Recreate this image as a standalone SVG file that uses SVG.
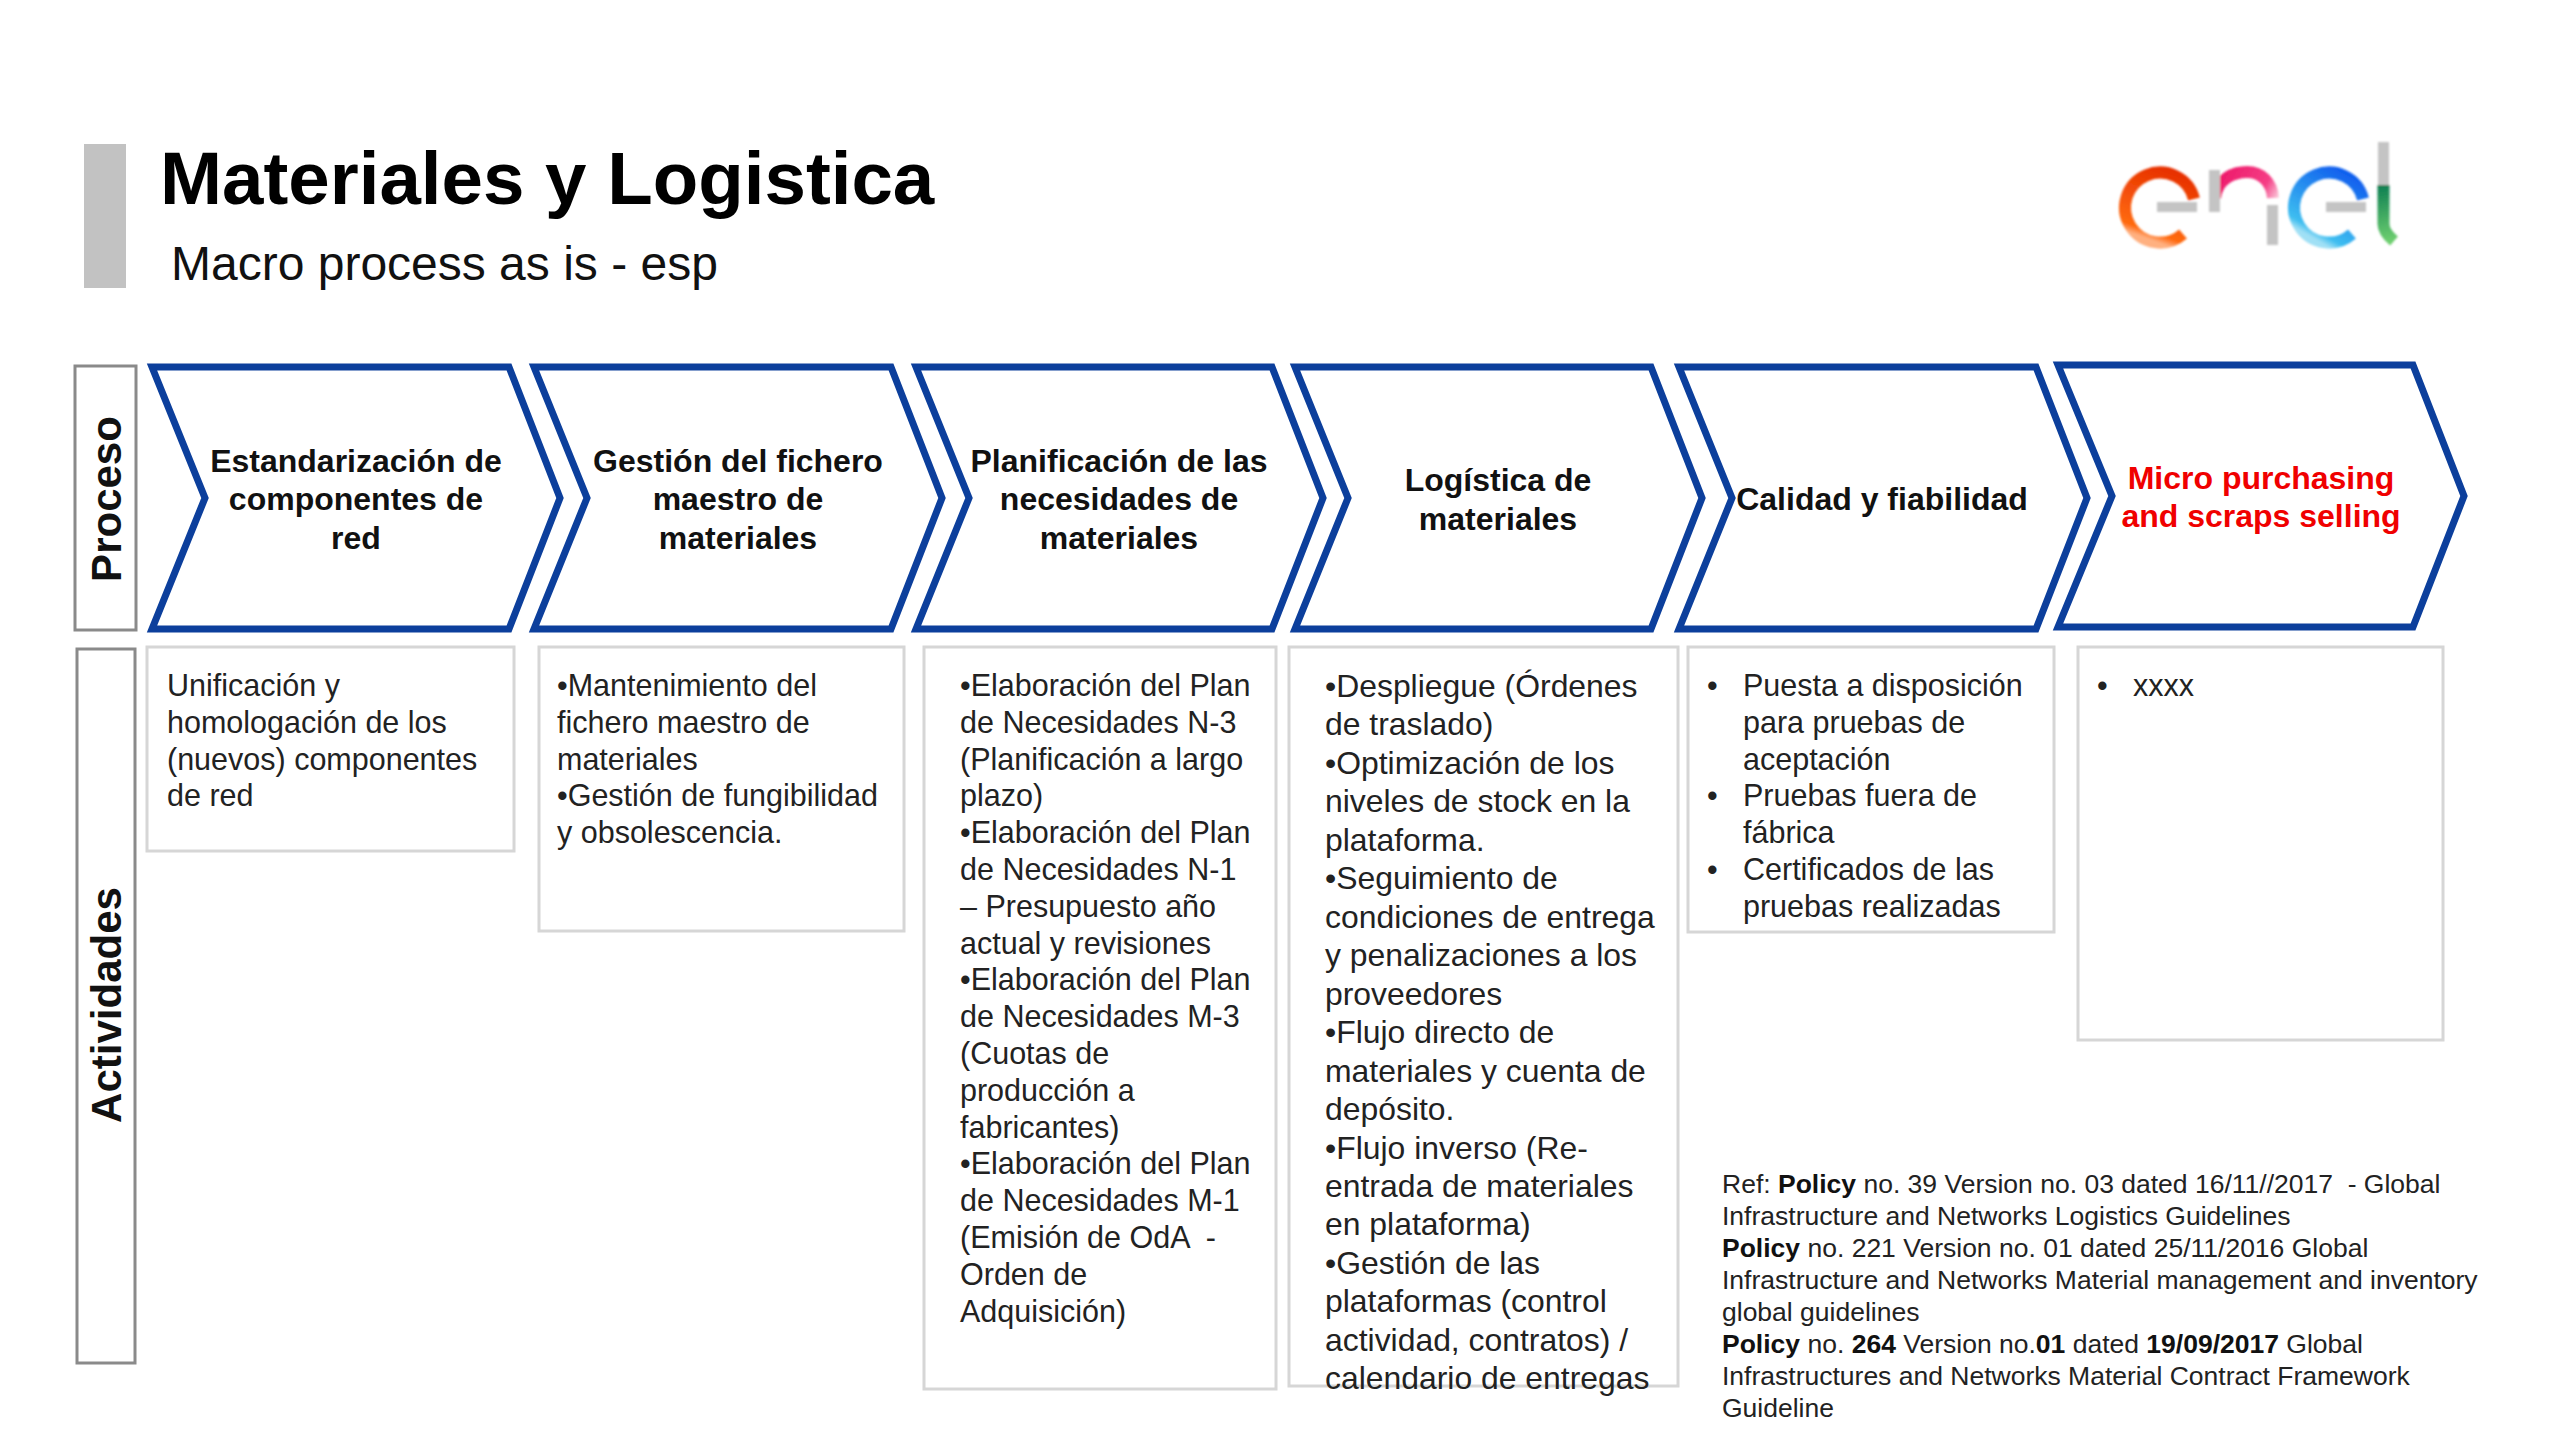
<svg xmlns="http://www.w3.org/2000/svg" width="2560" height="1440" viewBox="0 0 2560 1440">
<style>
text{font-family:"Liberation Sans",Arial,sans-serif;fill:#111;white-space:pre}
.chev{fill:#fff;stroke:#0c3f9c;stroke-width:7;stroke-linejoin:miter}
.h{font-size:32px;font-weight:bold;text-anchor:middle}
.red{fill:#f00000}
.box{fill:#fff;stroke:#d6d6d6;stroke-width:3}
.side{fill:#fff;stroke:#8a8a8a;stroke-width:3}
.b{font-size:30.500px;fill:#222}
.r{font-size:26.500px;fill:#222}
.s{font-weight:bold;fill:#111}
.v{font-size:42px;font-weight:bold;text-anchor:middle}
.g{fill:#c4c4c4}
.a{fill:none;stroke-width:12}
</style>
<defs>
<linearGradient id="g1" gradientUnits="userSpaceOnUse" x1="2190" y1="175" x2="2165" y2="245"><stop offset="0" stop-color="#e62e00"/><stop offset=".9" stop-color="#ff6a10"/><stop offset="1" stop-color="#ffb080"/></linearGradient>
<linearGradient id="g2" gradientUnits="userSpaceOnUse" x1="2225" y1="170" x2="2278" y2="200"><stop offset="0" stop-color="#ee1c6c"/><stop offset=".7" stop-color="#f53d85"/><stop offset="1" stop-color="#fbd3e0"/></linearGradient>
<linearGradient id="g3" gradientUnits="userSpaceOnUse" x1="2365" y1="175" x2="2325" y2="245"><stop offset="0" stop-color="#0b55ee"/><stop offset=".9" stop-color="#3dbdf0"/><stop offset="1" stop-color="#a0e0f5"/></linearGradient>
<linearGradient id="g4" gradientUnits="userSpaceOnUse" x1="2383" y1="185" x2="2392" y2="242"><stop offset="0" stop-color="#0e7f52"/><stop offset="1" stop-color="#6fd070"/></linearGradient>
<filter id="soft"><feGaussianBlur stdDeviation="1"/></filter>
</defs>
<rect width="2560" height="1440" fill="#fff"/>
<g id="header">
<rect x="84" y="144" width="42" height="144" fill="#c2c2c2"/>
<text x="160" y="204" font-size="74.500" font-weight="bold" style="fill:#000">Materiales y Logistica</text>
<text x="171" y="280" font-size="48">Macro process as is - esp</text>
</g>
<g id="logo" filter="url(#soft)">
<path class="a" stroke="url(#g1)" d="M2194 199A35 35 0 1 0 2183 234"/>
<path class="g" d="M2157 202h40v10h-40z"/>
<path class="a" stroke="url(#g2)" d="M2215 198C2217 178 2235 172 2247 172C2261 172 2272 182 2273 198"/>
<path class="g" d="M2209 170h11v42h-11zM2267 205h11v40h-11z"/>
<path class="a" stroke="url(#g3)" d="M2363 199A35 35 0 1 0 2352 234"/>
<path class="g" d="M2326 202h40v10h-40z"/>
<path class="g" d="M2378 142h11v43h-11z"/>
<path class="a" stroke="url(#g4)" d="M2383.500 185V224Q2383.500 232 2394 241"/>
</g>
<g id="side-proceso"><rect class="side" x="75" y="366" width="61" height="264"/><text class="v" transform="translate(121 499) rotate(-90)">Proceso</text></g>
<g id="side-actividades"><rect class="side" x="77" y="649" width="58" height="714"/><text class="v" transform="translate(121 1005) rotate(-90)">Actividades</text></g>

<g id="p1"><path class="chev" d="M152 367H509L560 498 509 629H152L205 498Z"/>
<text class="h" x="356" y="472">Estandarización de</text><text class="h" x="356" y="510">componentes de</text><text class="h" x="356" y="549">red</text></g>
<g id="p2"><path class="chev" d="M534 367H891L942 498 891 629H534L587 498Z"/>
<text class="h" x="738" y="472">Gestión del fichero</text><text class="h" x="738" y="510">maestro de</text><text class="h" x="738" y="549">materiales</text></g>
<g id="p3"><path class="chev" d="M916 367H1272L1323 498 1272 629H916L969 498Z"/>
<text class="h" x="1119" y="472">Planificación de las</text><text class="h" x="1119" y="510">necesidades de</text><text class="h" x="1119" y="549">materiales</text></g>
<g id="p4"><path class="chev" d="M1295 367H1651L1702 498 1651 629H1295L1348 498Z"/>
<text class="h" x="1498" y="491">Logística de</text><text class="h" x="1498" y="530">materiales</text></g>
<g id="p5"><path class="chev" d="M1679 367H2036L2087 498 2036 629H1679L1732 498Z"/>
<text class="h" x="1882" y="510">Calidad y fiabilidad</text></g>
<g id="p6"><path class="chev" d="M2058 365H2413L2464 496 2413 627H2058L2112 496Z"/>
<text class="h red" x="2261" y="489">Micro purchasing</text><text class="h red" x="2261" y="527">and scraps selling</text></g>

<g id="a1"><rect class="box" x="147" y="647" width="367" height="204"/>
<text class="b"><tspan x="167" y="696">Unificación y</tspan><tspan x="167" y="733">homologación de los</tspan><tspan x="167" y="770">(nuevos) componentes</tspan><tspan x="167" y="806">de red</tspan></text></g>
<g id="a2"><rect class="box" x="539" y="647" width="365" height="284"/>
<text class="b"><tspan x="557" y="696">•Mantenimiento del</tspan><tspan x="557" y="733">fichero maestro de</tspan><tspan x="557" y="770">materiales</tspan><tspan x="557" y="806">•Gestión de fungibilidad</tspan><tspan x="557" y="843">y obsolescencia.</tspan></text></g>
<g id="a3"><rect class="box" x="924" y="647" width="352" height="742"/>
<text class="b"><tspan x="960" y="696">•Elaboración del Plan</tspan><tspan x="960" y="733">de Necesidades N-3</tspan><tspan x="960" y="770">(Planificación a largo</tspan><tspan x="960" y="806">plazo)</tspan><tspan x="960" y="843">•Elaboración del Plan</tspan><tspan x="960" y="880">de Necesidades N-1</tspan><tspan x="960" y="917">– Presupuesto año</tspan><tspan x="960" y="954">actual y revisiones</tspan><tspan x="960" y="990">•Elaboración del Plan</tspan><tspan x="960" y="1027">de Necesidades M-3</tspan><tspan x="960" y="1064">(Cuotas de</tspan><tspan x="960" y="1101">producción a</tspan><tspan x="960" y="1138">fabricantes)</tspan><tspan x="960" y="1174">•Elaboración del Plan</tspan><tspan x="960" y="1211">de Necesidades M-1</tspan><tspan x="960" y="1248">(Emisión de OdA  -</tspan><tspan x="960" y="1285">Orden de</tspan><tspan x="960" y="1322">Adquisición)</tspan></text></g>
<g id="a4"><rect class="box" x="1289" y="647" width="389" height="739"/>
<text class="b" style="font-size:31.900px"><tspan x="1325" y="697">•Despliegue (Órdenes</tspan><tspan x="1325" y="735">de traslado)</tspan><tspan x="1325" y="774">•Optimización de los</tspan><tspan x="1325" y="812">niveles de stock en la</tspan><tspan x="1325" y="851">plataforma.</tspan><tspan x="1325" y="889">•Seguimiento de</tspan><tspan x="1325" y="928">condiciones de entrega</tspan><tspan x="1325" y="966">y penalizaciones a los</tspan><tspan x="1325" y="1005">proveedores</tspan><tspan x="1325" y="1043">•Flujo directo de</tspan><tspan x="1325" y="1082">materiales y cuenta de</tspan><tspan x="1325" y="1120">depósito.</tspan><tspan x="1325" y="1159">•Flujo inverso (Re-</tspan><tspan x="1325" y="1197">entrada de materiales</tspan><tspan x="1325" y="1235">en plataforma)</tspan><tspan x="1325" y="1274">•Gestión de las</tspan><tspan x="1325" y="1312">plataformas (control</tspan><tspan x="1325" y="1351">actividad, contratos) /</tspan><tspan x="1325" y="1389">calendario de entregas</tspan></text></g>
<g id="a5"><rect class="box" x="1688" y="647" width="366" height="285"/>
<text class="b"><tspan x="1707" y="696">•</tspan><tspan x="1743" y="696">Puesta a disposición</tspan><tspan x="1743" y="733">para pruebas de</tspan><tspan x="1743" y="770">aceptación</tspan><tspan x="1707" y="806">•</tspan><tspan x="1743" y="806">Pruebas fuera de</tspan><tspan x="1743" y="843">fábrica</tspan><tspan x="1707" y="880">•</tspan><tspan x="1743" y="880">Certificados de las</tspan><tspan x="1743" y="917">pruebas realizadas</tspan></text></g>
<g id="a6"><rect class="box" x="2078" y="647" width="365" height="393"/>
<text class="b"><tspan x="2097" y="696">•</tspan><tspan x="2133" y="696">xxxx</tspan></text></g>

<g id="ref"><text class="r"><tspan x="1722" y="1193">Ref: </tspan><tspan class="s">Policy</tspan><tspan> no. 39 Version no. 03 dated 16/11//2017  - Global</tspan><tspan x="1722" y="1225">Infrastructure and Networks Logistics Guidelines</tspan><tspan x="1722" y="1257" class="s">Policy</tspan><tspan> no. 221 Version no. 01 dated 25/11/2016 Global</tspan><tspan x="1722" y="1289">Infrastructure and Networks Material management and inventory</tspan><tspan x="1722" y="1321">global guidelines</tspan><tspan x="1722" y="1353" class="s">Policy</tspan><tspan> no. </tspan><tspan class="s">264</tspan><tspan> Version no.</tspan><tspan class="s">01</tspan><tspan> dated </tspan><tspan class="s">19/09/2017</tspan><tspan> Global</tspan><tspan x="1722" y="1385">Infrastructures and Networks Material Contract Framework</tspan><tspan x="1722" y="1417">Guideline</tspan></text></g>
</svg>
